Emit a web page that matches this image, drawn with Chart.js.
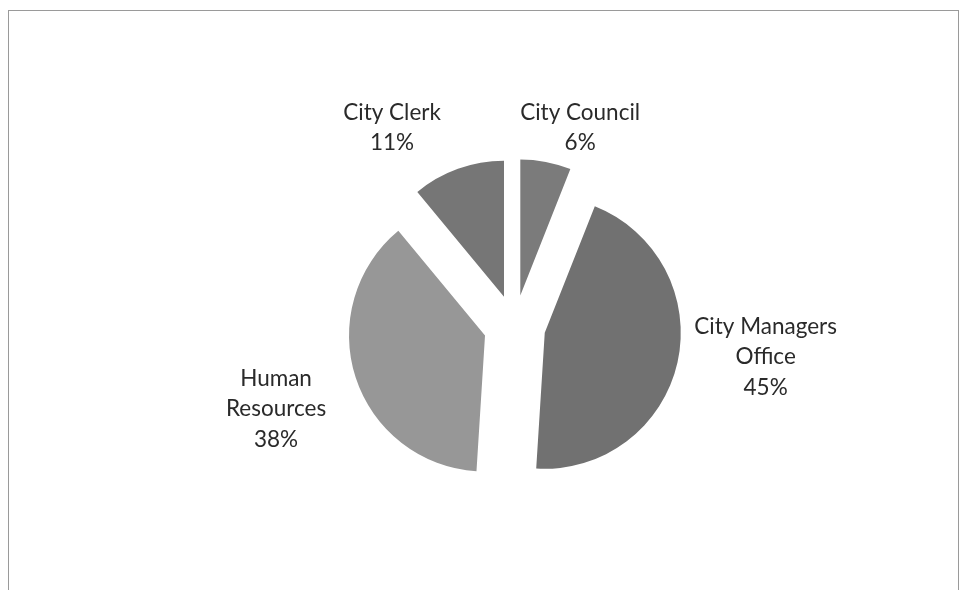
<!DOCTYPE html>
<html>
<head>
<meta charset="utf-8">
<script src="https://cdn.jsdelivr.net/npm/chart.js@4.4.1/dist/chart.umd.min.js"></script>
<style>
  html, body { margin: 0; padding: 0; background: #fff; }
  #wrap { position: relative; width: 967px; height: 590px; }
  #frame { position: absolute; left: 8px; top: 10px; width: 951px; height: 600px;
           border: 1px solid #9a9a9a; box-sizing: border-box; }
  canvas { position: absolute; left: 0; top: 0; }
</style>
</head>
<body>
<div id="wrap">
  <div id="frame"></div>
  <canvas id="grafico1" width="967" height="590"></canvas>
</div>
<script>
// departments, clockwise from 12 o'clock
var departamentos = ["City Council", "City Managers Office", "Human Resources", "City Clerk"];
var porcentajes = [6, 45, 38, 11];
var colores = ["#7b7b7b", "#717171", "#979797", "#767676"];

// how labels wrap, like the original
var etiquetas = [["City Council", "6%"], ["City Managers", "Office", "45%"], ["Human", "Resources", "38%"], ["City Clerk", "11%"]];
// label placement: angle from top (deg, clockwise) and distance from the pie centre
var angEtiqueta = [18.3, 97.0, 250.8, -31.7];
var distEtiqueta = [209, 253, 252.5, 233];

var explotar = 31; // pull-out of every slice, px

var pieExplotado = {
  id: 'pieExplotado',
  beforeDatasetDraw: function (chart, args) {
    var ctx = chart.ctx;
    args.meta.data.forEach(function (arc) {
      var mid = (arc.startAngle + arc.endAngle) / 2;
      ctx.save();
      ctx.translate(Math.cos(mid) * explotar, Math.sin(mid) * explotar);
      arc.draw(ctx);
      ctx.restore();
    });
    return false;
  },
  afterDatasetsDraw: function (chart) {
    var ctx = chart.ctx;
    var arc0 = chart.getDatasetMeta(0).data[0];
    var cx = arc0.x, cy = arc0.y;
    ctx.save();
    ctx.fillStyle = "#2a2a2a";
    ctx.font = "22.5px Lato";
    ctx.textAlign = "center";
    ctx.textBaseline = "middle";
    var lh = 30.5;
    etiquetas.forEach(function (lineas, i) {
      var a = angEtiqueta[i] * Math.PI / 180;
      var x = cx + Math.sin(a) * distEtiqueta[i];
      var y = cy - Math.cos(a) * distEtiqueta[i];
      var y0 = y - (lineas.length - 1) * lh / 2;
      lineas.forEach(function (t, j) {
        ctx.fillText(t, x, y0 + j * lh);
      });
    });
    ctx.restore();
  }
};

var ctx = document.getElementById("grafico1");
var myChart = new Chart(ctx, {
  type: 'pie',
  data: {
    labels: departamentos,
    datasets: [{
      data: porcentajes,
      backgroundColor: colores,
      borderWidth: 0
    }]
  },
  options: {
    responsive: false,
    animation: false,
    layout: { padding: { left: 378.5, right: 316.5, top: 190, bottom: 128 } },
    plugins: {
      legend: { display: false },
      tooltip: { enabled: false }
    }
  },
  plugins: [pieExplotado]
});
</script>
</body>
</html>
